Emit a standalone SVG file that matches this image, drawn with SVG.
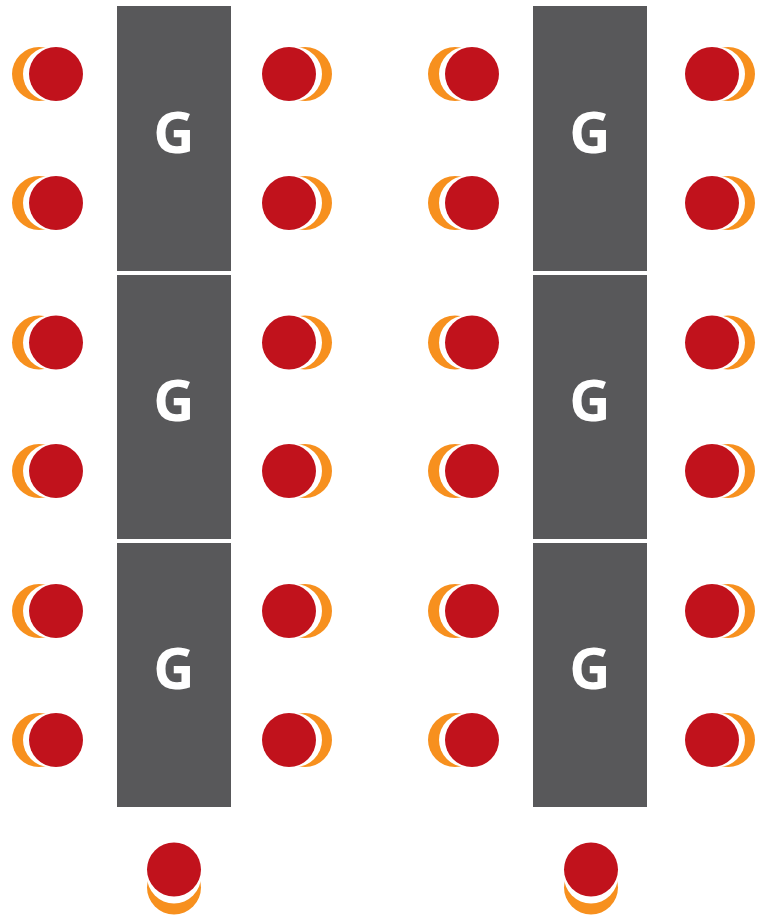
<svg xmlns="http://www.w3.org/2000/svg" xmlns:xlink="http://www.w3.org/1999/xlink" width="758" height="916" viewBox="0 0 758 916">
<style>
.table{fill:#58585A}
.lbl{font-family:"Open Sans","Liberation Sans",sans-serif;font-weight:700;font-size:57px;fill:#FFFFFF;text-anchor:middle}
.back{fill:#F7901E}
.gap{fill:#FFFFFF}
.seat{fill:#C1121C}
</style>
<defs>
<g id="chairW">
<circle class="back" cx="-17" cy="0" r="27"/>
<circle class="gap" cx="-6" cy="0" r="27"/>
<circle class="seat" cx="0" cy="0" r="27"/>
</g>
<g id="chairE">
<circle class="back" cx="16" cy="0" r="27"/>
<circle class="gap" cx="6" cy="0" r="27"/>
<circle class="seat" cx="0" cy="0" r="27"/>
</g>
<g id="chairS">
<circle class="back" cx="0" cy="18" r="27"/>
<circle class="gap" cx="0" cy="7" r="27"/>
<circle class="seat" cx="0" cy="0" r="27"/>
</g>
</defs>
<g id="table-1"><rect class="table" x="117" y="6" width="114" height="265"/><text class="lbl" x="174" y="153">G</text></g>
<g id="table-2"><rect class="table" x="117" y="275" width="114" height="264"/><text class="lbl" x="174" y="421">G</text></g>
<g id="table-3"><rect class="table" x="117" y="543" width="114" height="264"/><text class="lbl" x="174" y="689">G</text></g>
<g id="table-4"><rect class="table" x="533" y="6" width="114" height="265"/><text class="lbl" x="590" y="153">G</text></g>
<g id="table-5"><rect class="table" x="533" y="275" width="114" height="264"/><text class="lbl" x="590" y="421">G</text></g>
<g id="table-6"><rect class="table" x="533" y="543" width="114" height="264"/><text class="lbl" x="590" y="689">G</text></g>
<g id="chairs-left-a">
<use xlink:href="#chairW" x="56" y="74"/>
<use xlink:href="#chairW" x="56" y="203"/>
<use xlink:href="#chairW" x="56" y="342.5"/>
<use xlink:href="#chairW" x="56" y="471"/>
<use xlink:href="#chairW" x="56" y="611"/>
<use xlink:href="#chairW" x="56" y="740"/>
</g>
<g id="chairs-right-a">
<use xlink:href="#chairE" x="289" y="74"/>
<use xlink:href="#chairE" x="289" y="203"/>
<use xlink:href="#chairE" x="289" y="342.5"/>
<use xlink:href="#chairE" x="289" y="471"/>
<use xlink:href="#chairE" x="289" y="611"/>
<use xlink:href="#chairE" x="289" y="740"/>
</g>
<g id="chairs-left-b">
<use xlink:href="#chairW" x="472" y="74"/>
<use xlink:href="#chairW" x="472" y="203"/>
<use xlink:href="#chairW" x="472" y="342.5"/>
<use xlink:href="#chairW" x="472" y="471"/>
<use xlink:href="#chairW" x="472" y="611"/>
<use xlink:href="#chairW" x="472" y="740"/>
</g>
<g id="chairs-right-b">
<use xlink:href="#chairE" x="712" y="74"/>
<use xlink:href="#chairE" x="712" y="203"/>
<use xlink:href="#chairE" x="712" y="342.5"/>
<use xlink:href="#chairE" x="712" y="471"/>
<use xlink:href="#chairE" x="712" y="611"/>
<use xlink:href="#chairE" x="712" y="740"/>
</g>
<g id="chair-end-a"><use xlink:href="#chairS" x="174" y="869.5"/></g>
<g id="chair-end-b"><use xlink:href="#chairS" x="591" y="869.5"/></g>
<g id="connectors"/>
</svg>
